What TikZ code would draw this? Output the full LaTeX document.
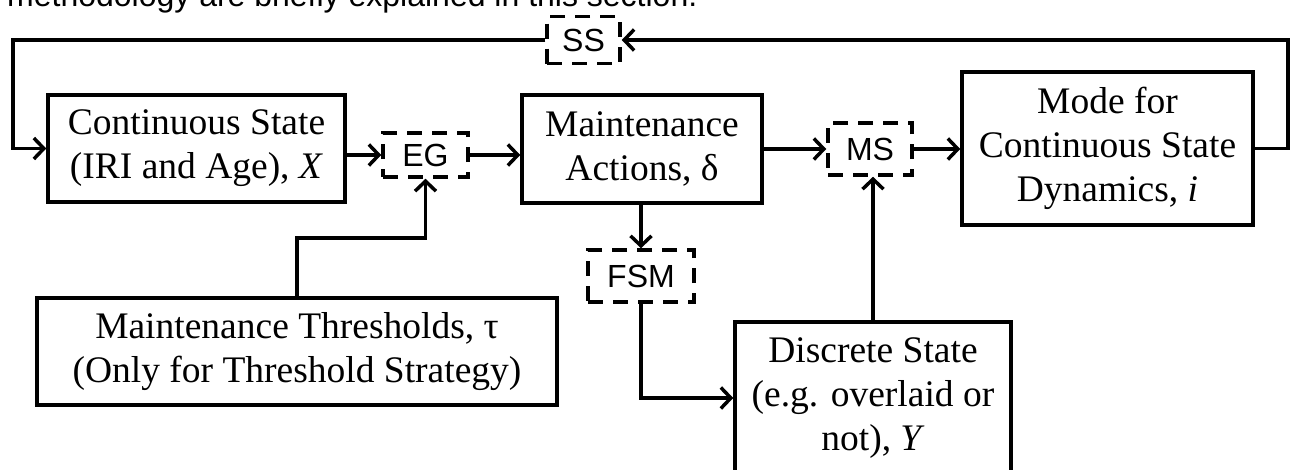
\documentclass[tikz,border=0pt]{standalone}
\usepackage{fontspec}
\setmainfont{Liberation Serif}
\newfontfamily\sansf{Liberation Sans}
\usetikzlibrary{arrows.meta}
\begin{document}
\begin{tikzpicture}[x=1pt,y=-1pt,
  lw/.style={line width=3.5pt},
  solidbox/.style={draw,lw,inner sep=0pt,align=center,
    font=\fontsize{37.5}{44}\selectfont},
  dashbox/.style={draw,lw,dash pattern=on 15pt off 10pt,inner sep=0pt,
    font=\sansf\fontsize{32}{36}\selectfont},
  arr/.style={lw,-{Straight Barb[length=10pt,width=21pt,line width=3.5pt]}},
  conn/.style={lw}]
\useasboundingbox (0,0) rectangle (1295,469);
\clip (0,0) rectangle (1295,469);
\node[anchor=base west,inner sep=0pt,font=\sansf\fontsize{32}{36}\selectfont] (top) at (7,6) {methodology are briefly explained in this section.};
\node[solidbox,minimum width=297pt,minimum height=107pt] (cs) at (196.5,148.5) {Continuous State\\(IRI and Age), \textit{X}};
\node[dashbox,minimum width=85pt,minimum height=44pt] (eg) at (425.5,155) {EG};
\node[solidbox,minimum width=240pt,minimum height=108pt] (ma) at (642,149) {Maintenance\\Actions, δ};
\node[dashbox,minimum width=84pt,minimum height=52pt] (ms) at (870,149) {MS};
\node[solidbox,minimum width=291pt,minimum height=153pt] (mode) at (1107.5,148.5) {Mode for\\Continuous State\\Dynamics, \textit{i}};
\node[dashbox,minimum width=73pt,minimum height=47pt] (ss) at (583.5,40) {SS};
\node[dashbox,minimum width=106pt,minimum height=52pt] (fsm) at (641,276) {FSM};
\node[solidbox,minimum width=520pt,minimum height=107pt] (thr) at (297,351.5) {Maintenance Thresholds, τ\\(Only for Threshold Strategy)};
\node[solidbox,minimum width=276pt,minimum height=152pt] (ds) at (873,398) {Discrete State\\(e.g. overlaid or\\not), \textit{Y}};
\coordinate (cr) at (1288,40);
\coordinate (cl) at (13,40);
\coordinate (thrup) at (297,238);
\draw[arr] (mode.east) -| (cr) -- (ss.east);
\draw[arr] (ss.west) -- (cl) |- (cs.west);
\draw[arr] (cs.east |- eg.west) -- (eg.west);
\draw[arr] (eg.east) -- (ma.west |- eg.east);
\draw[arr] (ma.east |- ms.west) -- (ms.west);
\draw[arr] (ms.east) -- (mode.west |- ms.east);
\draw[arr] (ma.south -| fsm.north) -- (fsm.north);
\draw[arr] (fsm.south) |- (ds.west);
\draw[arr] (ds.north) -- (ds.north |- ms.south);
\draw[arr] (thr.north) -- (thrup) -| (eg.south);
\end{tikzpicture}
\end{document}
